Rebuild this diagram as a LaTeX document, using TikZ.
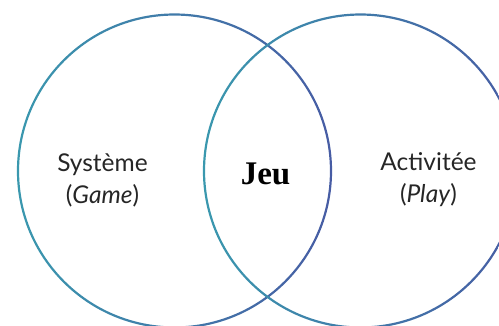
\documentclass[tikz,border=0pt]{standalone}
\usepackage{fontspec}
\setmainfont{Liberation Serif}
\setsansfont{Lato}
\definecolor{ringteal}{HTML}{3A98AE}
\definecolor{ringblue}{HTML}{475CA4}
\begin{document}
\begin{tikzpicture}[
    x=1pt, y=-1pt,
    ring/.style={left color=ringteal, right color=ringblue, even odd rule},
    setlabel/.style={font=\sffamily\fontsize{24.5}{32}\selectfont, align=center, text=black!85},
    jeulabel/.style={font=\bfseries\fontsize{33}{36}\selectfont}
]
\useasboundingbox (0,0) rectangle (499,325);
\clip (0,0) rectangle (499,325);

% Centres of the two sets
\coordinate (systeme) at (174.5,171);
\coordinate (activite) at (360.5,171);

% Rings
\shade[ring] (systeme) circle[radius=157.6pt] (systeme) circle[radius=155.4pt];
\shade[ring] (activite) circle[radius=157.6pt] (activite) circle[radius=155.4pt];

% Labels
\node[setlabel] (game) at (102.5,180) {Système\\(\textit{Game})};
\node[setlabel] (play) at (428.5,180) {Activitée\\(\textit{Play})};
\node[jeulabel] (jeu) at (265.5,174) {Jeu};

\end{tikzpicture}
\end{document}
